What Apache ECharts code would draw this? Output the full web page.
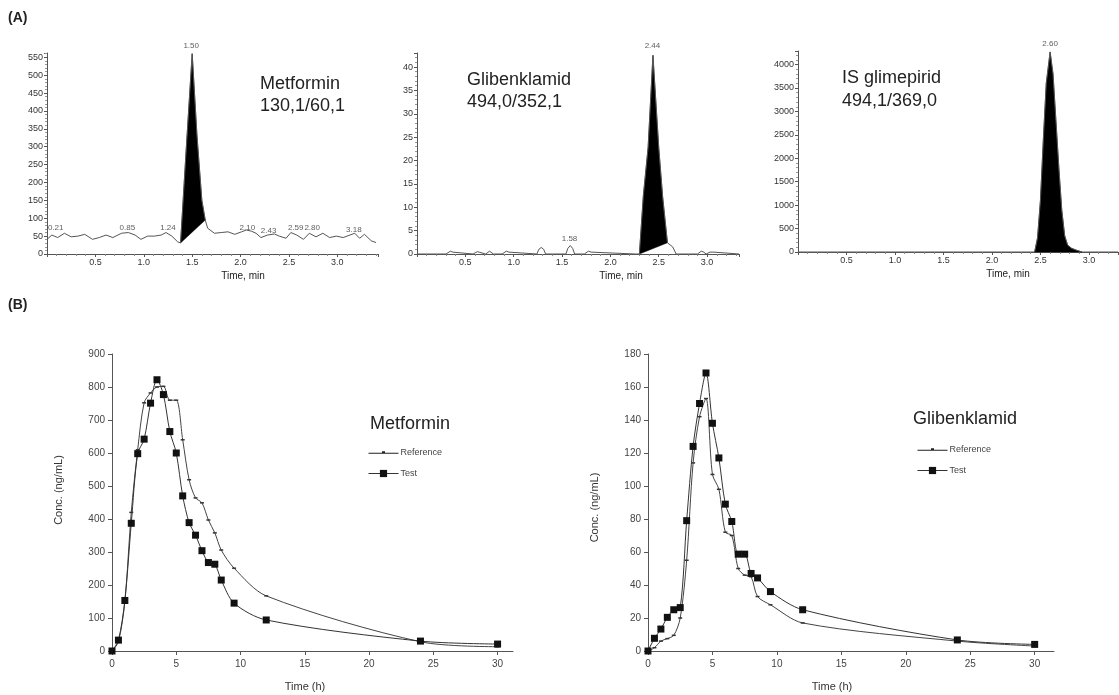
<!DOCTYPE html>
<html><head><meta charset="utf-8">
<script src="https://cdn.jsdelivr.net/npm/echarts@6/dist/echarts.min.js"></script>
<style>html,body{margin:0;padding:0;background:#fff}#c{width:1119px;height:695px}</style>
</head><body><div id="c"></div>
<script>
// ===== (A) chromatograms =====
// Metformin 130,1/60,1
const metBeforeX = [0.0,0.05,0.11,0.18,0.25,0.32,0.39,0.47,0.54,0.61,0.68,0.77,0.84,0.91,0.97,1.04,1.11,1.18,1.23,1.29,1.35];
const metBeforeY = [41,53,46,58,48,50,55,41,46,53,46,58,60,53,41,50,50,53,60,50,34];
const metPeakX = [1.38,1.44,1.50,1.55,1.60,1.635];
const metPeakY = [31,300,560,330,150,95];
const metAfterX = [1.66,1.73,1.80,1.87,1.94,2.01,2.06,2.11,2.16,2.21,2.28,2.35,2.40,2.47,2.52,2.58,2.65,2.71,2.78,2.85,2.92,2.99,3.06,3.13,3.18,3.23,3.28,3.35,3.40];
const metAfterY = [72,58,60,62,55,62,67,64,58,46,53,56,50,44,60,53,41,58,48,58,46,50,46,53,58,44,55,37,32];
const metLabelText = ['0.21','0.85','1.24','1.50','2.10','2.43','2.59','2.80','3.18'];
const metLabelX = [0.09,0.83,1.25,1.49,2.07,2.29,2.57,2.74,3.17];
const metLabelY = [72,73,73,581,73,64,73,73,68];

// Glibenklamid 494,0/352,1
const glibBeforeX = [0,0.30,0.32,0.345,0.37,0.39,0.58,0.60,0.624,0.65,0.67,0.71,0.73,0.751,0.77,0.79,0.88,0.90,0.923,0.95,0.97,1.24,1.26,1.285,1.31,1.33,1.54,1.56,1.585,1.61,1.63,1.73,1.75,1.774,1.80,1.82,2.26];
const glibBeforeY = [0,0,0.4,0.6,0.4,0,0,0.35,0.5,0.35,0,0,0.4,0.6,0.4,0,0,0.4,0.6,0.4,0,0,1.0,1.4,1.0,0,0,1.2,1.8,1.2,0,0,0.4,0.6,0.4,0,0];
const glibPeakX = [2.30,2.34,2.39,2.44,2.50,2.54,2.59];
const glibPeakY = [0,12.3,22.8,42.5,22.8,12.3,2.4];
const glibAfterX = [2.61,2.645,2.68,2.90,2.92,2.94,2.965,2.99,3.01,3.03,3.05,3.07,3.09,3.33];
const glibAfterY = [2.5,1.5,0,0,0.4,0.6,0.4,0,0,0.4,0.6,0.4,0,0];
const glibLabelText = ['1.58','2.44'];
const glibLabelX = [1.577,2.435];
const glibLabelY = [3.3,44.6];

// IS glimepirid 494,1/369,0
const isBeforeX = [0,2.40];
const isBeforeY = [0,0];
const isPeakX = [2.44,2.47,2.50,2.53,2.56,2.60,2.63,2.66,2.69,2.72,2.75,2.78,2.82,2.87,2.93];
const isPeakY = [0,300,1100,2400,3600,4270,3800,2800,1800,900,350,150,80,40,0];
const isAfterX = [2.97,3.3];
const isAfterY = [0,0];
const isLabelText = ['2.60'];
const isLabelX = [2.60];
const isLabelY = [4440];

// ===== (B) plasma concentration curves =====
const times = [0,0.5,1,1.5,2,2.5,3,3.5,4,4.5,5,5.5,6,6.5,7,7.5,8,8.5,9.5,12,24,30];
const metRef  = [0,28,150,420,610,752,782,800,802,760,760,640,519,464,449,397,358,306,251,167,28,13];
const metTest = [0,33,153,387,598,642,751,822,777,665,600,470,389,351,304,268,263,215,145,94,30,21];
const glibRef  = [0,2,6,7.5,9.5,20,55,114,142,153,107,98,72,70,50,46,45,33,28,17,6,3];
const glibTest = [0,7.7,13.3,20.4,25,26.3,79,124,150,168.5,138,117,89,78.5,58.7,58.7,47,44.3,36,25,6.7,4];

// ===== build =====
const FONT = '"Liberation Sans", Arial, sans-serif';
const zip = (xs, ys) => xs.map((x, i) => [x, ys[i]]);
const REF_ICON = 'path://M0,4.5L30,4.5L30,5.5L0,5.5ZM13.5,3.2L16.5,3.2L16.5,5L13.5,5Z';

function topX(i, max, namePad) {
  return {
    gridIndex: i, type: 'value', min: 0, max: max, interval: 0.5,
    axisLine: {lineStyle: {color: '#555', width: 1}},
    axisTick: {show: true, length: 3, lineStyle: {color: '#555'}},
    minorTick: {show: true, splitNumber: 5, length: 2, lineStyle: {color: '#888'}},
    axisLabel: {fontSize: 9, color: '#333', margin: 4, showMinLabel: false, showMaxLabel: false, fontFamily: FONT,
      formatter: v => v.toFixed(1)},
    splitLine: {show: false},
    name: 'Time, min', nameLocation: 'middle', nameGap: 17,
    nameTextStyle: {fontSize: 10, color: '#222', fontFamily: FONT, padding: [0, 0, 0, namePad]}
  };
}
function topY(i, max, interval) {
  return {
    gridIndex: i, type: 'value', min: 0, max: max, interval: interval,
    axisLine: {show: true, lineStyle: {color: '#555', width: 1}},
    axisTick: {show: true, length: 3, lineStyle: {color: '#555'}},
    minorTick: {show: true, splitNumber: 5, length: 2, lineStyle: {color: '#999'}},
    axisLabel: {fontSize: 9, color: '#333', margin: 4, showMaxLabel: false, fontFamily: FONT,
      formatter: v => String(v)},
    splitLine: {show: false}
  };
}
function botX(i, max, namePad) {
  return {
    gridIndex: i, type: 'value', min: 0, max: max, interval: 5,
    axisLine: {lineStyle: {color: '#555', width: 1}},
    axisTick: {show: true, length: 4, lineStyle: {color: '#555'}},
    axisLabel: {fontSize: 10, color: '#444', margin: 8, showMaxLabel: false, fontFamily: FONT},
    splitLine: {show: false},
    name: 'Time (h)', nameLocation: 'middle', nameGap: 30,
    nameTextStyle: {fontSize: 11, color: '#333', fontFamily: FONT, padding: [0, namePad, 0, 0]}
  };
}
function botY(i, max, interval, pad) {
  return {
    gridIndex: i, type: 'value', min: 0, max: max, interval: interval,
    axisLine: {show: true, lineStyle: {color: '#555', width: 1}},
    axisTick: {show: true, length: 4, lineStyle: {color: '#555'}},
    axisLabel: {fontSize: 10, color: '#444', margin: 7, fontFamily: FONT},
    splitLine: {show: false},
    name: 'Conc. (ng/mL)', nameLocation: 'middle', nameGap: 48,
    nameTextStyle: {fontSize: 11, color: '#333', fontFamily: FONT, padding: pad}
  };
}
function traceSeries(i, data) {
  return {type: 'line', xAxisIndex: i, yAxisIndex: i, data: data, showSymbol: false, symbol: 'none',
    lineStyle: {color: '#555', width: 1}, z: 3, silent: true, animation: false};
}
function fillSeries(i, px, py) {
  return {type: 'custom', xAxisIndex: i, yAxisIndex: i, silent: true, z: 2,
    data: [[px[0], py[0]]],
    renderItem: function (params, api) {
      return {type: 'polygon', shape: {points: px.map((x, k) => api.coord([x, py[k]]))},
        style: {fill: '#000', stroke: '#000', lineWidth: 0.5}};
    }};
}
function labelSeries(i, texts, xs, ys) {
  return {type: 'scatter', xAxisIndex: i, yAxisIndex: i, symbolSize: 1, clip: false, silent: true, z: 4,
    itemStyle: {color: 'rgba(0,0,0,0)'},
    data: texts.map((t, k) => ({name: t, value: [xs[k], ys[k]]})),
    label: {show: true, position: 'inside', formatter: '{b}', fontSize: 8, color: '#333', fontFamily: FONT}};
}
function pkSeries(i, name, ys, isTest) {
  return {type: 'line', name: name, xAxisIndex: i, yAxisIndex: i, data: zip(times, ys),
    smooth: 0.3, showSymbol: true,
    symbol: 'rect', symbolSize: isTest ? 7 : [4, 1.5],
    itemStyle: {color: isTest ? '#111' : '#333'},
    lineStyle: {color: isTest ? '#333' : '#444', width: 1}, z: isTest ? 4 : 3};
}
function txt(x, y, text, size, bold) {
  return {type: 'text', x: x, y: y, silent: true,
    style: {text: text, font: (bold ? 'bold ' : '') + size + 'px ' + FONT, fill: '#222', align: 'left', verticalAlign: 'middle'}};
}
function legendAt(left, top) {
  return {orient: 'vertical', left: left, top: top, itemWidth: 30, itemHeight: 9, itemGap: 12, padding: 0,
    selectedMode: false,
    lineStyle: {width: 1, color: '#333'},
    data: [{name: 'Reference', icon: REF_ICON, itemStyle: {color: '#222'}}, 'Test'],
    textStyle: {fontSize: 9, color: '#444', fontFamily: FONT, padding: [0, 0, 0, -3]}};
}

const option = {
  animation: false,
  backgroundColor: '#fff',
  grid: [
    {left: 47, top: 53, width: 331, height: 201},
    {left: 417, top: 53, width: 322, height: 201},
    {left: 798, top: 51, width: 320, height: 201},
    {left: 112, top: 354, width: 401, height: 297},
    {left: 648, top: 354, width: 406, height: 297}
  ],
  xAxis: [topX(0, 3.42, 61), topX(1, 3.33, 86), topX(2, 3.3, 100), botX(3, 31.2, 15), botX(4, 31.5, 38)],
  yAxis: [topY(0, 562, 50), topY(1, 43, 5), topY(2, 4290, 500), botY(3, 900, 100, [0, 0, 0, 25]), botY(4, 180, 20, [0, 10, 0, 0])],
  legend: [legendAt(368, 448), legendAt(917, 445)],
  graphic: [
    txt(8, 18, '(A)', 14, true),
    txt(8, 305, '(B)', 14, true),
    txt(260, 84, 'Metformin', 18),
    txt(260, 106, '130,1/60,1', 18),
    txt(467, 80, 'Glibenklamid', 18),
    txt(467, 102, '494,0/352,1', 18),
    txt(842, 78, 'IS glimepirid', 18),
    txt(842, 101, '494,1/369,0', 18),
    txt(370, 424, 'Metformin', 18),
    txt(913, 419, 'Glibenklamid', 18)
  ],
  series: [
    fillSeries(0, metPeakX, metPeakY),
    traceSeries(0, zip(metBeforeX.concat(metPeakX, metAfterX), metBeforeY.concat(metPeakY, metAfterY))),
    labelSeries(0, metLabelText, metLabelX, metLabelY),
    fillSeries(1, glibPeakX, glibPeakY),
    traceSeries(1, zip(glibBeforeX.concat(glibPeakX, glibAfterX), glibBeforeY.concat(glibPeakY, glibAfterY))),
    labelSeries(1, glibLabelText, glibLabelX, glibLabelY),
    fillSeries(2, isPeakX, isPeakY),
    traceSeries(2, zip(isBeforeX.concat(isPeakX, isAfterX), isBeforeY.concat(isPeakY, isAfterY))),
    labelSeries(2, isLabelText, isLabelX, isLabelY),
    pkSeries(3, 'Reference', metRef, false),
    pkSeries(3, 'Test', metTest, true),
    pkSeries(4, 'Reference', glibRef, false),
    pkSeries(4, 'Test', glibTest, true)
  ]
};
const chart = echarts.init(document.getElementById('c'));
chart.setOption(option);
</script>
</body></html>
